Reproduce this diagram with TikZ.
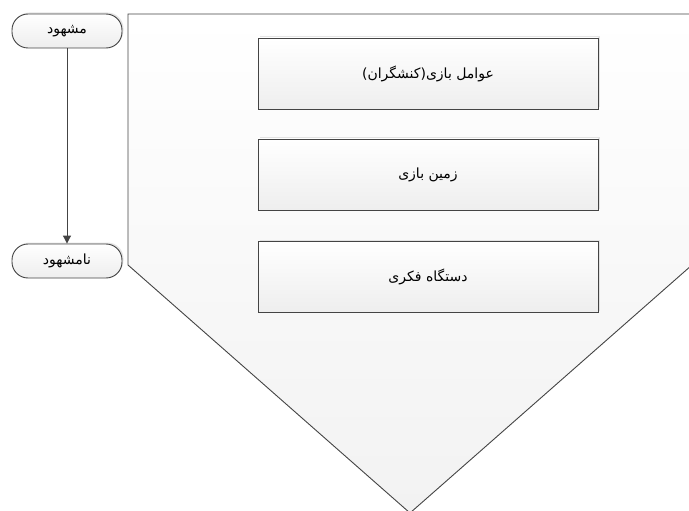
\documentclass[tikz,border=0pt]{standalone}
\usepackage{fontspec}
\newfontfamily\arabicfont[Script=Arabic]{DejaVu Sans}
\TeXXeTstate=1
\usetikzlibrary{shadows,arrows.meta}
\definecolor{edgegray}{HTML}{444444}
\definecolor{fillgray}{HTML}{EEEEEE}
\definecolor{panelgray}{HTML}{F2F2F2}
\tikzset{
  pill/.style={draw=edgegray, line width=0.9pt, rounded corners=16pt,
    minimum width=110pt, minimum height=34pt, inner sep=0pt,
    top color=white, bottom color=fillgray,
    drop shadow={shadow xshift=1.5pt, shadow yshift=1.5pt, fill=gray!40, opacity=0.5},
    font=\arabicfont\fontsize{14}{16}\selectfont},
  stagebox/.style={draw=edgegray, line width=0.9pt,
    minimum width=340pt, minimum height=71pt, inner sep=0pt,
    top color=white, bottom color=fillgray,
    drop shadow={shadow xshift=1.5pt, shadow yshift=1.5pt, fill=gray!40, opacity=0.5},
    font=\arabicfont\fontsize{14}{16}\selectfont},
  flowarrow/.style={draw=edgegray, line width=1pt, -{Triangle[length=8pt,width=8pt]}},
  panel/.style={draw=edgegray, line width=0.9pt, top color=white, bottom color=panelgray}
}
\begin{document}
\begin{tikzpicture}[x=1pt,y=-1pt]
\useasboundingbox (0,0) rectangle (689,511);
\fill[white] (0,0) rectangle (689,511);
% big pentagon panel
\path[panel] (128,14) -- (692,14) -- (692,265) -- (410,513) -- (128,265) -- cycle;
% stage boxes
\node[stagebox] (b1) at (428,73.5) {\beginR عوامل بازی(کنشگران)\endR};
\node[stagebox] (b2) at (428,174.5) {\beginR زمین بازی\endR};
\node[stagebox] (b3) at (428,276.5) {\beginR دستگاه فکری\endR};
% terminals
\node[pill] (t1) at (67,31) {\beginR مشهود\endR};
\node[pill] (t2) at (67,261) {\beginR نامشهود\endR};
\draw[flowarrow] (t1) -- (t2);
\end{tikzpicture}
\end{document}
